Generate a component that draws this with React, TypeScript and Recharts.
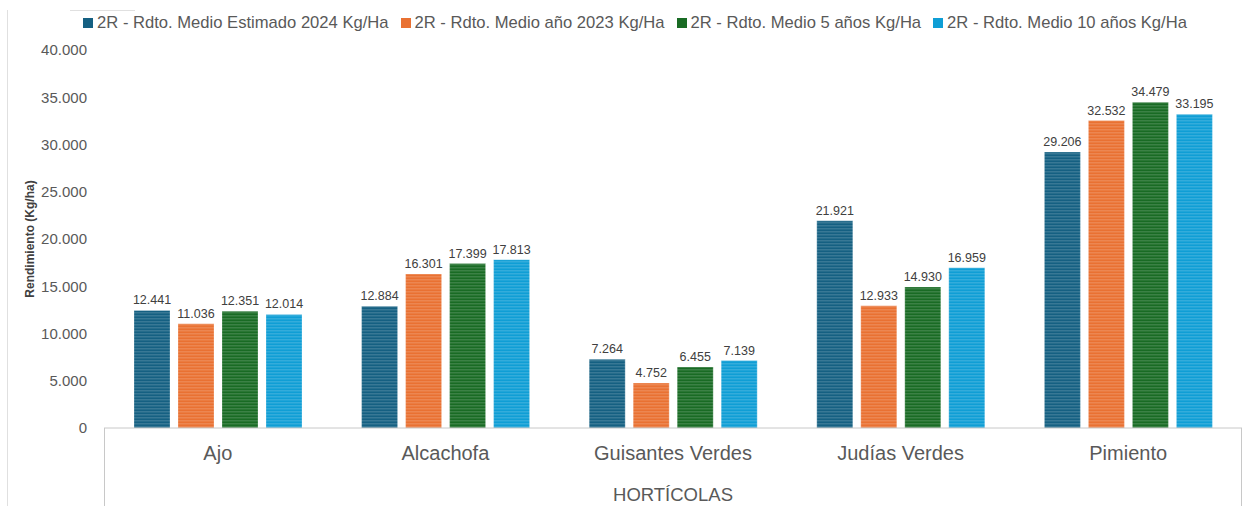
import { Bar, BarChart, LabelList, Legend, XAxis, YAxis } from "recharts";

document.body.style.margin = "0";

const categories = ["Ajo", "Alcachofa", "Guisantes Verdes", "Judías Verdes", "Pimiento"];
const estimado2024 = [12441, 12884, 7264, 21921, 29206];
const medio2023 = [11036, 16301, 4752, 12933, 32532];
const medio5 = [12351, 17399, 6455, 14930, 34479];
const medio10 = [12014, 17813, 7139, 16959, 33195];
const yTicks = [0, 5000, 10000, 15000, 20000, 25000, 30000, 35000, 40000];

const seriesKeys = ["e2024", "m2023", "m5", "m10"];
const seriesNames = [
  "2R - Rdto. Medio Estimado 2024 Kg/Ha",
  "2R - Rdto. Medio año 2023 Kg/Ha",
  "2R - Rdto. Medio 5 años Kg/Ha",
  "2R - Rdto. Medio 10 años Kg/Ha",
];
const seriesColors = ["#156082", "#E97132", "#196B24", "#0F9ED5"];

const data = categories.map((name, i) => ({
  name,
  e2024: estimado2024[i],
  m2023: medio2023[i],
  m5: medio5[i],
  m10: medio10[i],
}));

const W = 1250;
const H = 506;
const Y_AXIS_W = 80;
const LEGEND_H = 18;
const margin = { top: 50 - LEGEND_H, right: 8, left: 24, bottom: 0 };
const X_AXIS_H = 78;
const FONT = "'Liberation Sans', Arial, sans-serif";
const GREY = "#595959";
const FRAME = "#c8c8c8";

// miles con punto, también para 4 cifras
const fmt = (v: number) => String(Math.round(v)).replace(/\B(?=(\d{3})+(?!\d))/g, ".");

function LegendRow() {
  return (
    <div style={{ display: "flex", justifyContent: "center", gap: 12, fontFamily: FONT, fontSize: 16.6, lineHeight: `${LEGEND_H}px`, height: LEGEND_H, color: GREY, marginLeft: 20 }}>
      {seriesNames.map((n, i) => (
        <div key={n} style={{ display: "flex", alignItems: "center", whiteSpace: "nowrap" }}>
          <span style={{ width: 10, height: 10, background: seriesColors[i], marginRight: 4, display: "inline-block" }} />
          {n}
        </div>
      ))}
    </div>
  );
}

export default function App() {
  const plotLeft = margin.left + Y_AXIS_W;
  const plotRight = W - margin.right;
  const plotBottom = H - X_AXIS_H;
  return (
    <div style={{ position: "relative", width: W, height: H, background: "#fff" }}>
      <BarChart
        width={W}
        height={H}
        data={data}
        margin={margin}
        barCategoryGap={30}
        barGap={8}
      >
        <defs>
          {seriesColors.map((c, i) => (
            <pattern key={c} id={`stripe-${i}`} width="6" height="3" patternUnits="userSpaceOnUse">
              <rect width="6" height="3" fill={c} />
              <rect width="6" height="1.5" fill="#ffffff" fillOpacity={0.15} />
            </pattern>
          ))}
        </defs>
        <XAxis
          dataKey="name"
          height={X_AXIS_H}
          tickLine={false}
          tickSize={0}
          tickMargin={18}
          axisLine={{ stroke: FRAME }}
          tick={{ fill: GREY, fontSize: 20, fontFamily: FONT }}
          label={{ value: "HORTÍCOLAS", position: "insideBottom", offset: 5, fill: GREY, fontSize: 18.5, fontFamily: FONT }}
        />
        <YAxis
          width={Y_AXIS_W}
          domain={[0, 40000]}
          ticks={yTicks}
          interval={0}
          axisLine={false}
          tickLine={false}
          tickSize={0}
          tickMargin={17}
          tickFormatter={fmt}
          tick={{ fill: GREY, fontSize: 15, fontFamily: FONT }}
          label={{
            value: "Rendimiento (Kg/ha)",
            angle: -90,
            position: "insideLeft",
            offset: 6,
            fill: "#404040",
            fontSize: 12,
            fontWeight: "bold",
            fontFamily: FONT,
            style: { textAnchor: "middle" },
          }}
        />
        <Legend verticalAlign="top" wrapperStyle={{ top: 14, left: 0, width: W }} content={() => <LegendRow />} />
        {seriesKeys.map((k, i) => (
          <Bar
            key={k}
            dataKey={k}
            name={seriesNames[i]}
            fill={`url(#stripe-${i})`}
            stroke="rgba(255,255,255,0.25)"
            strokeWidth={1}
            isAnimationActive={false}
          >
            <LabelList dataKey={k} position="top" offset={6} formatter={(v: number) => fmt(v)} fill="#404040" fontSize={12.5} fontFamily={FONT} />
          </Bar>
        ))}
      </BarChart>
      {/* marco del eje de categorías y borde del gráfico */}
      <div style={{ position: "absolute", left: plotLeft, top: plotBottom, width: 1, height: H - plotBottom, background: FRAME }} />
      <div style={{ position: "absolute", left: plotRight - 1, top: plotBottom, width: 1, height: H - plotBottom, background: FRAME }} />
      <div style={{ position: "absolute", left: 7, top: 10, width: 1, height: H - 10, background: "#e0e0e0" }} />
      <div style={{ position: "absolute", left: 70, top: 10, width: 65, height: 1, background: "#e0e0e0" }} />
    </div>
  );
}
